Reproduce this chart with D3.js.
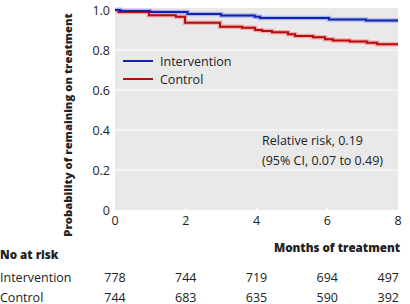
<!doctype html>
<html lang="en">
<head>
<meta charset="UTF-8">
<title>Kaplan-Meier</title>
<style>
    body { margin: 0; background: #fff; }
    svg text { font-family: "Open Sans", sans-serif; fill: #222; }
</style>
</head>
<body>
<div class="canvas"></div>
<script src="https://d3js.org/d3.v7.min.js"></script>
<script>
    // step points: [month, probability]
    const interventionSteps = [
        [0, 1.0], [0.15, 0.995], [1.0, 0.99], [2.05, 0.98], [3.0, 0.973],
        [3.95, 0.966], [4.1, 0.96], [6.05, 0.953], [7.1, 0.947], [8, 0.947]
    ];
    const controlSteps = [
        [0, 1.0], [0.1, 0.99], [0.96, 0.9735], [1.72, 0.9665], [1.98, 0.9365],
        [2.97, 0.9165], [3.59, 0.9115], [3.96, 0.90], [4.16, 0.895], [4.44, 0.8885],
        [4.89, 0.8785], [5.09, 0.87], [5.6, 0.8635], [5.94, 0.8535], [6.16, 0.8475],
        [6.64, 0.8425], [7.12, 0.8365], [7.41, 0.829], [8, 0.829]
    ];
    const xTicks = [0, 2, 4, 6, 8];
    const yTicks = [0, 0.2, 0.4, 0.6, 0.8, 1.0];
    const riskGroups = ['Intervention', 'Control'];
    const riskIntervention = [778, 744, 719, 694, 497];
    const riskControl = [744, 683, 635, 590, 392];

    const svgWidth = 410, svgHeight = 304;
    const plotLeft = 115, plotRight = 398, plotTop = 10, plotBottom = 210;
    const fs = 12.5;

    const svg = d3.select('.canvas').append('svg')
        .attr('width', svgWidth)
        .attr('height', svgHeight);

    const x = d3.scaleLinear().domain([0, 8]).range([plotLeft, plotRight]);
    const y = d3.scaleLinear().domain([0, 1]).range([plotBottom, plotTop]);

    // plot background
    svg.append('rect')
        .attr('x', plotLeft).attr('y', y(1.01))
        .attr('width', plotRight - plotLeft).attr('height', plotBottom - y(1.01))
        .attr('fill', '#e9e9e9');

    // grid lines
    svg.selectAll('.grid')
        .data(yTicks.filter(d => d > 0 && d < 1))
        .enter().append('line')
        .attr('x1', plotLeft - 3).attr('x2', plotRight)
        .attr('y1', d => y(d)).attr('y2', d => y(d))
        .attr('stroke', '#fff').attr('stroke-width', 1.2);

    // x ticks (white, cut into the background)
    svg.selectAll('.xtick')
        .data(xTicks.filter(d => d > 0 && d < 8))
        .enter().append('line')
        .attr('x1', d => x(d)).attr('x2', d => x(d))
        .attr('y1', plotBottom - 2).attr('y2', plotBottom + 3)
        .attr('stroke', '#fff').attr('stroke-width', 1.2);

    // y tick labels
    svg.selectAll('.ylab')
        .data(yTicks)
        .enter().append('text')
        .attr('x', plotLeft - 5)
        .attr('y', d => y(d) + 4.5)
        .attr('text-anchor', 'end')
        .attr('font-size', fs)
        .text(d => d === 0 ? '0' : d.toFixed(1));

    // x tick labels
    svg.selectAll('.xlab')
        .data(xTicks)
        .enter().append('text')
        .attr('x', d => x(d))
        .attr('y', 224.5)
        .attr('text-anchor', 'middle')
        .attr('font-size', fs)
        .text(d => d);

    // curves
    const line = d3.line()
        .x(d => x(d[0]))
        .y(d => y(d[1]))
        .curve(d3.curveStepAfter);

    const series = [
        { name: 'Control', steps: controlSteps, color: '#b30d0d', band: '#f1a9a9' },
        { name: 'Intervention', steps: interventionSteps, color: '#1424a8', band: '#a9b4ee' }
    ];

    series.forEach(s => {
        svg.append('path')
            .attr('d', line(s.steps))
            .attr('fill', 'none')
            .attr('stroke', s.band)
            .attr('stroke-width', 4.5);
    });
    series.forEach(s => {
        svg.append('path')
            .attr('d', line(s.steps))
            .attr('fill', 'none')
            .attr('stroke', s.color)
            .attr('stroke-width', 2);
    });

    // legend
    const legend = [series[1], series[0]];
    legend.forEach((s, i) => {
        const ly = 61 + i * 18;
        svg.append('line')
            .attr('x1', 123).attr('x2', 153)
            .attr('y1', ly).attr('y2', ly)
            .attr('stroke', s.color).attr('stroke-width', 2);
        svg.append('text')
            .attr('x', 160).attr('y', ly + 4.5)
            .attr('font-size', fs)
            .text(s.name);
    });

    // annotation
    svg.append('text').attr('x', 262).attr('y', 144.5).attr('font-size', fs)
        .text('Relative risk, 0.19');
    svg.append('text').attr('x', 262).attr('y', 165).attr('font-size', fs)
        .text('(95% CI, 0.07 to 0.49)');

    // axis titles
    svg.append('text')
        .attr('transform', 'translate(72,125) rotate(-90)')
        .attr('text-anchor', 'middle')
        .attr('font-size', 11.3)
        .attr('font-weight', 800)
        .text('Probability of remaining on treatment');

    svg.append('text')
        .attr('x', 400).attr('y', 252)
        .attr('text-anchor', 'end')
        .attr('font-size', 11.6)
        .attr('font-weight', 800)
        .text('Months of treatment');

    // number at risk table
    svg.append('text')
        .attr('x', 0).attr('y', 259)
        .attr('font-size', 11.6)
        .attr('font-weight', 800)
        .text('No at risk');

    [riskIntervention, riskControl].forEach((row, r) => {
        const ry = 282 + r * 19.5;
        svg.append('text')
            .attr('x', 0).attr('y', ry)
            .attr('font-size', fs)
            .text(riskGroups[r]);
        svg.selectAll('.risk' + r)
            .data(row)
            .enter().append('text')
            .attr('x', (d, i) => i === row.length - 1 ? plotRight + 1 : x(xTicks[i]))
            .attr('y', ry)
            .attr('text-anchor', (d, i) => i === row.length - 1 ? 'end' : 'middle')
            .attr('font-size', fs)
            .text(d => d);
    });
</script>
</body>
</html>
